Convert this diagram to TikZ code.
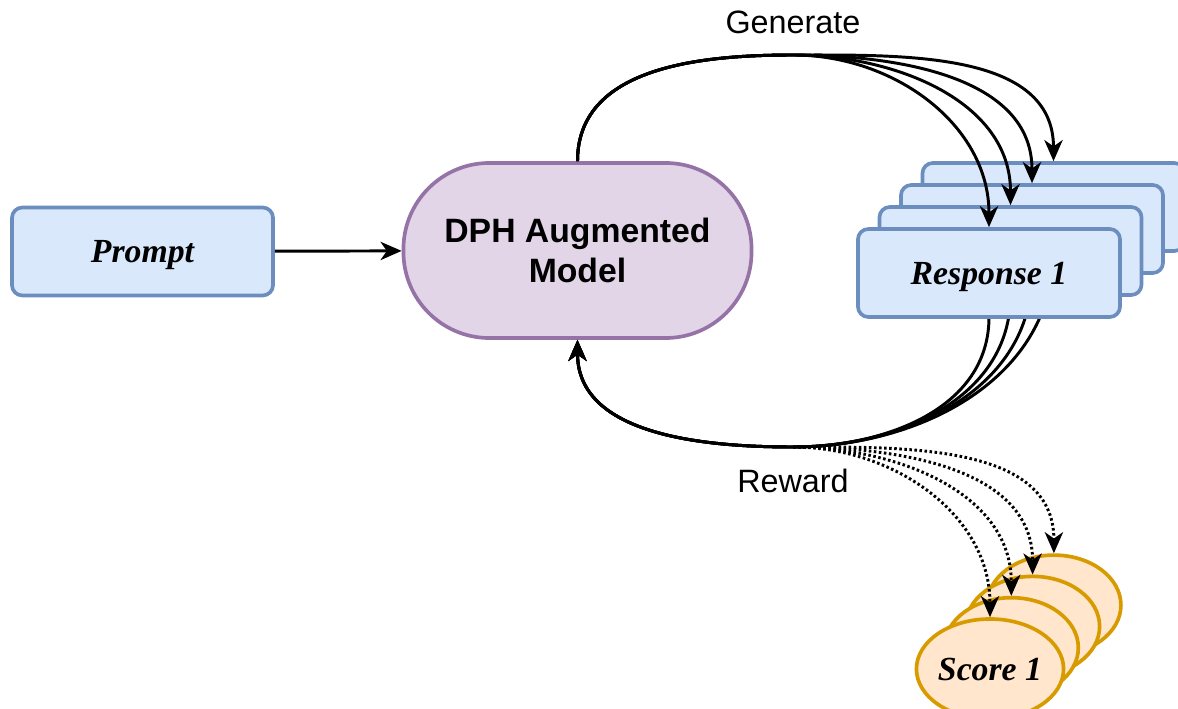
\documentclass[tikz,border=0pt]{standalone}
\usepackage{fontspec}
\setmainfont{Liberation Serif}
\setsansfont{Liberation Sans}
\usepackage{xcolor}
\usepackage{tikz}
\usetikzlibrary{arrows.meta,
                positioning,
                shapes.geometric}

\definecolor{respfill}{HTML}{DAE8FC}
\definecolor{respline}{HTML}{6C8EBF}
\definecolor{modelfill}{HTML}{E1D5E7}
\definecolor{modelline}{HTML}{9673A6}
\definecolor{scorefill}{HTML}{FFE6CC}
\definecolor{scoreline}{HTML}{D79B00}

\tikzset{
  bluebox/.style={draw=respline, fill=respfill, line width=2.6pt,
    rounded corners=0.26cm, minimum width=6.55cm, minimum height=2.2cm,
    inner sep=0pt, text depth=0pt, font=\fontsize{24}{29}\selectfont\bfseries\itshape},
  modelbox/.style={draw=modelline, fill=modelfill, line width=2.6pt,
    rounded corners=2.15cm, minimum width=8.7cm, minimum height=4.375cm,
    inner sep=0pt, align=center, font=\fontsize{24}{29}\selectfont\sffamily\bfseries},
  scoreell/.style={ellipse, draw=scoreline, fill=scorefill, line width=2.6pt,
    minimum width=3.35cm, minimum height=2.5cm, inner sep=0pt, text depth=0pt,
    font=\fontsize{24}{29}\selectfont\bfseries\itshape},
  flow/.style={line width=2.1pt, -{Stealth[length=15pt, width=13pt, inset=4.5pt]}},
  dots/.style={flow, dash pattern=on 1.8pt off 1.8pt},
  tag/.style={font=\fontsize{23}{27}\selectfont\sffamily}
}

\begin{document}
\begin{tikzpicture}[x=0.025cm, y=0.025cm]
\useasboundingbox (0,0) rectangle (1178,-709);

\coordinate (gen) at (793,-55);
\coordinate (rew) at (793,-447);

\node[bluebox, minimum width=6.525cm] (prompt) at (142.5,-251.5) {Prompt};
\node[modelbox] (model) at (577.5,-250.5) {DPH Augmented\\Model};
\draw[flow] (prompt) -- (model);

% reward lines go behind the stacked responses
\foreach \i in {3,2,1,0}
  \coordinate (rs\i) at ({989+21.5*\i},{-317+22*\i});
\foreach \i in {3,2,1,0}
  \draw[flow] (rs\i) to[out=-90,in=0] (rew) to[out=180,in=-90] (model.south);

\foreach \i in {3,2,1}
  \node[bluebox] (resp\i) at ({989+21.5*\i},{-273+22*\i}) {};
\node[bluebox] (resp0) at (989,-273) {Response 1};

\foreach \i in {0,1,2,3}
  \draw[flow] (model.north) to[out=90,in=180] (gen) to[out=0,in=90] (resp\i.north);

\foreach \i in {3,2,1}
  \node[scoreell] (score\i) at ({990+21.3*\i},{-669+21.3*\i}) {};
\node[scoreell] (score0) at (990,-669) {Score 1};

\foreach \i in {0,1,2,3}
  \draw[dots] (rew) to[out=0,in=90] (score\i.north);

\node[tag] (gentag) at (793,-22) {Generate};
\node[tag] (rewtag) at (793,-481) {Reward};
\end{tikzpicture}
\end{document}
